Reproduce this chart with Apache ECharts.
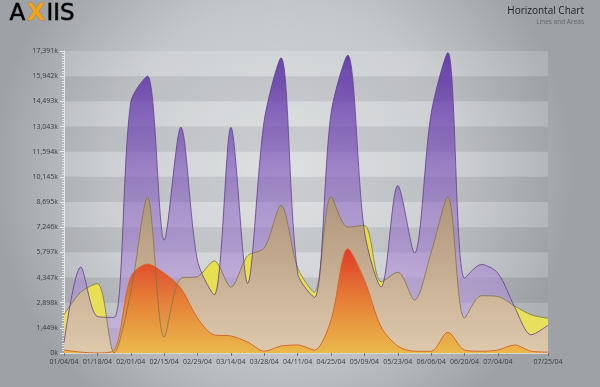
<!DOCTYPE html>
<html>
<head>
<meta charset="utf-8">
<script src="https://cdn.jsdelivr.net/npm/echarts@6/dist/echarts.min.js"></script>
<style>html,body{margin:0;padding:0;}#c{width:600px;height:387px;}</style>
</head>
<body>
<div id="c"></div>
<script>
// weekly dates
var dates = ['01/04/04','01/11/04','01/18/04','01/25/04','02/01/04','02/08/04','02/15/04','02/22/04','02/29/04','03/07/04','03/14/04','03/21/04','03/28/04','04/04/04','04/11/04','04/18/04','04/25/04','05/02/04','05/09/04','05/16/04','05/23/04','05/30/04','06/06/04','06/13/04','06/20/04','06/27/04','07/04/04','07/11/04','07/18/04','07/25/04'];
// values in thousands
var grapes  = [600,4950,2100,2050,14450,15950,6500,13000,5300,3350,13000,4000,13400,17000,4600,3200,13800,17150,7000,3800,9650,5750,13800,17300,4300,5100,4600,2650,1050,1600];
var bananas = [2200,3500,4000,0,3500,8970,900,4300,4400,5300,3800,5600,6050,8500,4900,3500,9000,7250,7350,4100,4650,3050,5800,8980,2000,3300,3250,2700,2200,2000];
var oranges = [170,50,0,150,4380,5120,4600,3740,2010,1040,980,630,100,400,460,170,1900,6000,4200,1500,400,100,100,1200,170,100,170,460,100,50];
var yTickLabels = ['0k','1,449k','2,898k','4,347k','5,797k','7,246k','8,695k','10,145k','11,594k','13,043k','14,493k','15,942k','17,391k'];
var yMax = 17391;
var tipLines = ['Oranges','04/11/04','5004088'];

function grad(stops){
  return {type:'linear',x:0,y:0,x2:0,y2:1,colorStops:stops.map(function(s){return {offset:s[0],color:s[1]};})};
}
function showX(i){ return (i % 2 === 0 && i <= 26) || i === dates.length - 1; }
var silver = grad([[0,'#ffffff'],[0.5,'#d0d0d0'],[1,'#8a8a8a']]);

var chart = echarts.init(document.getElementById('c'), null, {renderer:'canvas'});
chart.setOption({
  animation:false,
  backgroundColor:{type:'radial',x:0.47,y:0.45,r:0.75,colorStops:[{offset:0,color:'#d8dadc'},{offset:0.6,color:'#c4c7ca'},{offset:1,color:'#9ea2a6'}]},
  grid:{left:64,right:52,top:51,bottom:34,containLabel:false},
  xAxis:{
    type:'category',data:dates,boundaryGap:false,
    axisLine:{show:true,lineStyle:{color:'#d8d8d8',width:1}},
    axisTick:{show:true,length:3,interval:function(i){return showX(i);},lineStyle:{color:'#777'}},
    axisLabel:{interval:function(i){return showX(i);},fontSize:7,color:'#3a3a3a',margin:5,fontFamily:'Open Sans'},
    splitLine:{show:false}
  },
  yAxis:{
    type:'value',min:0,max:yMax,interval:yMax/12,
    axisLine:{show:true,lineStyle:{color:'#e6e6e6'}},
    axisTick:{show:true,length:4,lineStyle:{color:'#ececec'}},
    minorTick:{show:true,splitNumber:10,length:2,lineStyle:{color:'#e2e2e2'}},
    axisLabel:{fontSize:7,color:'#3a3a3a',margin:6,fontFamily:'Open Sans',
      formatter:function(v){return yTickLabels[Math.round(v/(yMax/12))];}},
    splitLine:{show:false},
    splitArea:{show:true,areaStyle:{color:['rgba(140,146,152,0.16)','rgba(255,255,255,0.16)']}}
  },
  series:[
    {name:'Bananas',type:'line',data:bananas,smooth:0.3,symbol:'none',
     lineStyle:{color:'#7d7640',width:0.8},
     areaStyle:{color:grad([[0,'#e6de38'],[1,'#e9e066']]),opacity:1}},
    {name:'Grapes',type:'line',data:grapes,smooth:0.3,symbol:'none',
     lineStyle:{color:'#5a3f8a',width:0.8},
     areaStyle:{color:grad([[0,'rgba(84,39,163,0.85)'],[0.5,'rgba(125,80,190,0.5)'],[1,'rgba(212,178,242,0.5)']]),opacity:1}},
    {name:'Oranges',type:'line',data:oranges,smooth:0.3,symbol:'none',
     lineStyle:{color:'#d46a2a',width:1},
     areaStyle:{color:grad([[0,'rgba(224,52,34,0.95)'],[0.5,'rgba(232,122,44,0.9)'],[1,'rgba(236,182,58,0.85)']]),opacity:1}}
  ],
  graphic:[
    {type:'text',left:9,top:2,style:{text:'A',font:'23px "DejaVu Sans"',fill:silver,stroke:'#4a4a4a',lineWidth:0.9}},
    {type:'text',left:27,top:2,style:{text:'X',font:'bold 23px "DejaVu Sans"',fill:'#f0a418',stroke:'#b86a10',lineWidth:0.5,shadowBlur:9,shadowColor:'#ffb000'}},
    {type:'text',left:46,top:2,style:{text:'IIS',font:'23px "DejaVu Sans"',fill:silver,stroke:'#4a4a4a',lineWidth:0.9}},
    {type:'text',right:16,top:6,style:{text:'Horizontal Chart',font:'10px "Open Sans"',fill:'#222',textAlign:'right'}},
    {type:'text',right:16,top:19,style:{text:'Lines and Areas',font:'6.5px "Open Sans"',fill:'#666',textAlign:'right'}},
    {type:'group',left:316,top:300,children:[
      {type:'rect',shape:{x:0,y:0,width:34,height:27,r:3},style:{fill:'rgba(234,236,238,0.95)',stroke:'#9a9a9a',lineWidth:0.5,shadowBlur:3,shadowColor:'rgba(0,0,0,0.3)'}},
      {type:'text',x:4,y:3,style:{text:tipLines[0],font:'bold 5.5px "Liberation Sans"',fill:'#333'}},
      {type:'text',x:4,y:10.5,style:{text:tipLines[1],font:'5.5px "Liberation Sans"',fill:'#444'}},
      {type:'text',x:4,y:18,style:{text:tipLines[2],font:'5.5px "Liberation Sans"',fill:'#444'}}
    ]}
  ]
});
</script>
</body>
</html>
